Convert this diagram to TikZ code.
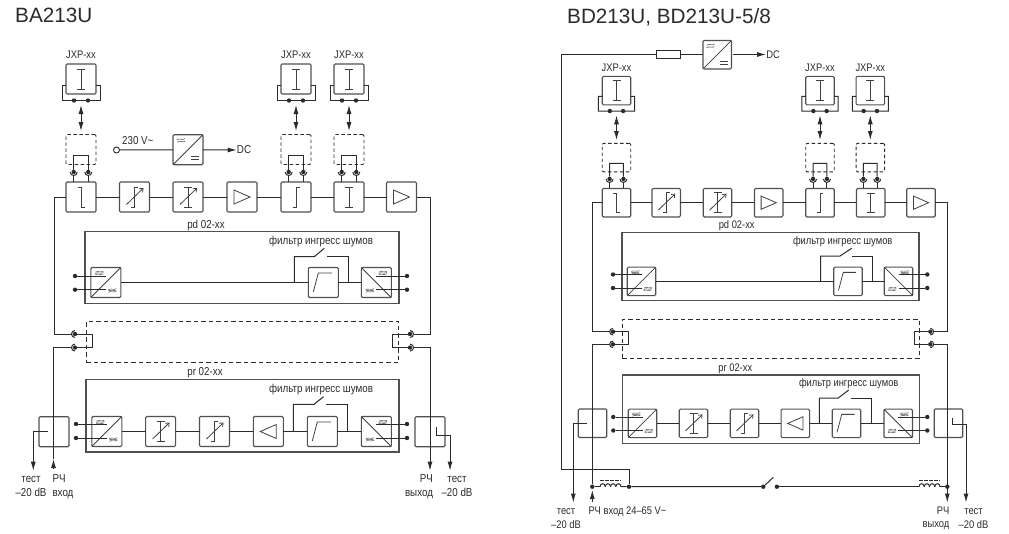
\documentclass[tikz,border=0pt]{standalone}
\usepackage{fontspec}
\setmainfont{Liberation Sans}
\newfontfamily\condfont[FakeStretch=0.85]{Liberation Sans}
\usetikzlibrary{arrows.meta, positioning, calc}
\definecolor{mLine}{HTML}{2B2B2B}
\definecolor{mBox}{HTML}{505050}
\definecolor{mSym}{HTML}{404040}
\tikzset{
  sigline/.style={mLine, line width=1pt},
  sigtip/.style={sigline, -{Latex[length=9pt,width=5pt]}},
  dbltip/.style={sigline, {Latex[length=9pt,width=5pt]}-{Latex[length=9pt,width=5pt]}},
  blockbox/.style={draw=mBox, line width=1.1pt, rounded corners=1.2pt, minimum size=30pt, inner sep=0pt, outer sep=0pt},
  blockB/.style={blockbox, minimum size=28.5pt},
  dashbox/.style={blockbox, dashed, dash pattern=on 3.5pt off 2.5pt, draw=mLine, line width=0.9pt},
  panelbox/.style={draw=mBox, line width=1.2pt, inner sep=0pt, outer sep=0pt},
  dashpanel/.style={draw=mLine, line width=1pt, dash pattern=on 4.5pt off 3pt, inner sep=0pt, outer sep=0pt},
  dotn/.style={circle, fill=mLine, inner sep=0pt, minimum size=4.4pt},
  lab/.style={font=\condfont\fontsize{11.5}{14.5}\selectfont, text=mLine, inner sep=0pt},
  labB/.style={font=\condfont\fontsize{11}{13.6}\selectfont, text=mLine, inner sep=0pt},
  symline/.style={mSym, line width=0.8pt},
  pics/symI/.style={code={\draw[symline] (-4,-10) -- (4,-10) (0,-10) -- (0,10) (-4,10) -- (4,10);}},
  pics/symHook/.style={code={\draw[symline] (-3.5,-10) -- (0,-10) -- (0,10) -- (3.5,10);}},
  pics/symInt/.style={code={\draw[symline] (-3.5,10) -- (0,10) -- (0,-10) -- (3.5,-10);}},
  pics/symTilt/.style={code={\draw[symline, -{Straight Barb[length=3pt,width=5pt]}] (-8,7.5) -- (9,-9);}},
  pics/symSlope/.style={code={\pic {symInt}; \pic {symTilt};}},
  pics/symIgain/.style={code={\pic {symI}; \pic {symTilt};}},
  pics/symAmp/.style={code={\draw[symline] (-8,-7) -- (8,0) -- (-8,7) -- cycle;}},
  pics/symFilter/.style={code={\draw[symline] (-10,9.5) -- (-5,-9.5) -- (8.5,-9.5);}},
  pics/symWave/.style={code={
    \foreach \w in {-1.3,0,1.3} {
      \draw[mSym, line width=0.45pt] (-4,\w+0.5) .. controls (-2,\w-1.2) and (1.5,\w+1.2) .. (4,\w-0.5);
    }}},
  pics/symAC/.style={code={
    \draw[symline] (-15,15) -- (15,-15);
    \pic at (-6.5,-9.5) {symWave};
    \pic at (6.5,8) {symWave};}},
  pics/symDC/.style={code={
    \draw[symline] (-15,15) -- (15,-15);
    \foreach \w in {-10.5,-8} {
      \draw[mSym, line width=0.55pt] (-11,\w+0.5) .. controls (-9,\w-1.2) and (-5,\w+1.2) .. (-3,\w-0.5);
    }
    \draw[mSym, line width=0.6pt] (3,7) -- (11,7) (3,9.8) -- (11,9.8);}},
  pics/cupmark/.style={code={\draw[sigline] (-3.5,0) .. controls (-3.5,4.6) and (3.5,4.6) .. (3.5,0);}},
  pics/coil/.style={code={
    \foreach \k in {0,1,2,3} {
      \draw[sigline] (\k*5.25,0) .. controls (\k*5.25+0.2,-4) and (\k*5.25+5.05,-4) .. (\k*5.25+5.25,0);
    }
    \draw[mLine, line width=0.8pt, dash pattern=on 3.6pt off 1.5pt] (0,-6) -- (21,-6);}}
}
% one plug-in unit with its socket above a block: name, x, y, scale, block
\newcommand{\jxpunit}[5]{%
  \begin{scope}[shift={(#2,#3)}, scale=#4]
    \node[labB] (jl#1) at (0,-142) {JXP-xx};
    \node[blockbox, minimum size=#4*30pt] (jx#1) at (0,-118) {};
    \pic at (jx#1) {symI};
    \node[dotn] (ja#1) at (-7,-96.5) {};
    \node[dotn] (jb#1) at (7,-96.5) {};
    \coordinate (jr#1) at (15,-112);
    \coordinate (jq#1) at (-15,-112);
    \draw[sigline] (jr#1) -- ++(4,0) -- (19,-96.5) -- (ja#1) -- (jb#1) -- (-19,-96.5) -- (-19,-112) -- (jq#1);
    \coordinate (jt#1) at (0,-92);
    \coordinate (ju#1) at (0,-66);
    \draw[dbltip] (jt#1) -- (ju#1);
    \node[dashbox, minimum size=#4*30pt] (js#1) at (0,-47.5) {};
    \node[dotn] (sa#1) at (-7.3,-25) {};
    \node[dotn] (sb#1) at (7.3,-25) {};
    \coordinate (st#1) at (-7.3,-41.3);
    \draw[sigline] (sa#1) -- (st#1) -- ++(14.6,0) -- (sb#1);
    \pic at (sa#1) {cupmark};
    \pic at (sb#1) {cupmark};
    \draw[sigline] (sa#1) ++(0,3.5) -- (sa#1 |- #5.north);
    \draw[sigline] (sb#1) ++(0,3.5) -- (sb#1 |- #5.north);
  \end{scope}}
\begin{document}
\begin{tikzpicture}[x=1pt, y=-1pt]
  \useasboundingbox (0,0) rectangle (1009,533);
  \node[font=\fontsize{20.7}{24}\selectfont, text=mLine, inner sep=0pt, anchor=base west] (titleA) at (15,22) {BA213U};
  \node[font=\fontsize{20.7}{24}\selectfont, text=mLine, inner sep=0pt, anchor=base west] (titleB) at (567,23) {BD213U, BD213U-5/8};

  % BA213U, forward row
  \foreach \n/\x/\s in {1/81/symHook,2/134.5/symSlope,3/188/symIgain,4/242/symAmp,5/296/symInt,6/349/symI,7/401.5/symAmp} {
    \node[blockbox] (bA\n) at (\x,197) {};
    \pic at (bA\n) {\s};
  }
  \foreach \n [remember=\n as \p (initially 1)] in {2,...,7} {
    \draw[sigline] (bA\p) -- (bA\n);
  }
  \jxpunit{A1}{81}{197}{1}{bA1}
  \jxpunit{A2}{296}{197}{1}{bA5}
  \jxpunit{A3}{349}{197}{1}{bA6}

  % mains input
  \node[draw=mLine, line width=0.9pt, circle, inner sep=0pt, minimum size=6pt] (inA) at (116.5,150) {};
  \node[lab, right=2pt of inA, yshift=9pt] (vA) {230 V\textasciitilde};
  \node[blockbox] (cvA0) at (188,149.7) {};
  \pic at (cvA0) {symDC};
  \draw[sigline] (inA) -- (cvA0);
  \node[lab] (dcA) at (244,150) {DC};
  \draw[sigtip] (cvA0) -- (dcA.west);

  % pd 02-xx
  \node[panelbox, minimum width=314pt, minimum height=72pt] (pdA) at (242,267.5) {};
  \node[lab] (pdlA) at (206,225.5) {pd 02-xx};
  \node[lab] (fltA1) at (321,241.7) {фильтр ингресс шумов};
  \node[blockbox] (cvA1) at (105.8,282.5) {};
  \pic at (cvA1) {symAC};
  \node[blockbox] (flA1) at (323.3,282.5) {};
  \pic at (flA1) {symFilter};
  \node[blockbox] (cvA2) at (376.3,282.5) {};
  \pic[xscale=-1] at (cvA2) {symAC};
  \draw[sigline] (cvA1) -- (flA1);
  \draw[sigline] (flA1) -- (cvA2);
  \foreach \n/\x/\y/\c in {1/75/276/cvA1,2/75/289.7/cvA1,3/407/276/cvA2,4/407/289.7/cvA2} {
    \node[dotn] (dpA\n) at (\x,\y) {};
    \draw[sigline] (dpA\n) -- (dpA\n -| \c);
  }
  \coordinate (byA1) at (294.3,282.5);
  \coordinate (byA2) at (348.3,282.5);
  \coordinate (swA1) at (314.3,256.7);
  \coordinate (swA2) at (327.3,256.7);
  \draw[sigline] (byA1) |- (swA1) -- ++(10,-8.4);
  \draw[sigline] (swA2) -| (byA2);

  % link section
  \node[dashpanel, minimum width=312.7pt, minimum height=41.4pt] (lkA) at (242.6,342) {};
  \foreach \n/\x/\y/\r in {1/75/334/-90,2/75/347.6/-90,3/410/334/90,4/410/347.6/90} {
    \node[dotn] (cA\n) at (\x,\y) {};
    \pic[rotate=\r] at (cA\n) {cupmark};
  }
  \draw[sigline] (cA1) -- ++(17,0) |- (cA2);
  \draw[sigline] (cA3) -- ++(-17.3,0) |- (cA4);
  \coordinate (kA1) at (54,334);
  \coordinate (kA2) at (430.5,334);
  \draw[sigline] (bA1.west) -| (kA1) -- ($(cA1)+(-3.5,0)$);
  \draw[sigline] (bA7.east) -| (kA2) -- ($(cA3)+(3.5,0)$);

  % pr 02-xx
  \node[panelbox, minimum width=313pt, minimum height=72.3pt] (prA) at (242.5,415.8) {};
  \node[lab] (prlA) at (205,373) {pr 02-xx};
  \node[lab] (fltA2) at (321,390) {фильтр ингресс шумов};
  \foreach \n/\x/\s in {1/106.8/symAC,2/160.6/symIgain,3/214.5/symSlope,4/268.3/symAmp,5/322.3/symFilter,6/376.3/symAC} {
    \node[blockbox] (rA\n) at (\x,431.5) {};
    \ifnum\n=4 \pic[xscale=-1] at (rA\n) {\s};
    \else\ifnum\n=6 \pic[xscale=-1] at (rA\n) {\s};
    \else \pic at (rA\n) {\s};
    \fi\fi
  }
  \foreach \n [remember=\n as \p (initially 1)] in {2,...,6} {
    \draw[sigline] (rA\p) -- (rA\n);
  }
  \foreach \n/\x/\y/\c in {1/76/424/rA1,2/76/438/rA1,3/407/424/rA6,4/407/438/rA6} {
    \node[dotn] (drA\n) at (\x,\y) {};
    \draw[sigline] (drA\n) -- (drA\n -| \c);
  }
  \coordinate (byA3) at (293.3,431.5);
  \coordinate (byA4) at (347.3,431.5);
  \coordinate (swA3) at (314,404.3);
  \coordinate (swA4) at (326,404.3);
  \draw[sigline] (byA3) |- (swA3) -- ++(9.5,-7.6);
  \draw[sigline] (swA4) -| (byA4);

  % taps and RF ports
  \node[blockbox] (tpA1) at (54,431.7) {};
  \node[blockbox] (tpA2) at (430,431.7) {};
  \coordinate (tiA1) at (47.7,431);
  \coordinate (toA1) at (33.3,470.7);
  \draw[sigtip] (tiA1) -| (toA1);
  \coordinate (tiA2) at (436,427.3);
  \coordinate (tiA3) at (436,435);
  \coordinate (toA2) at (450,470.7);
  \draw[sigline] (tiA2) -- (tiA3);
  \draw[sigtip] (tiA3) -| (toA2);
  \coordinate (rfA1) at (53.5,469);
  \coordinate (rfA2) at (53.5,459);
  \coordinate (rfA3) at (53.5,347.6);
  \draw[sigtip] (rfA1) -- (rfA2);
  \draw[sigline] (rfA2) -- (rfA3) -- ($(cA2)+(-3.5,0)$);
  \coordinate (rfA4) at (430,470.7);
  \draw[sigtip] ($(cA4)+(3.5,0)$) -| (rfA4);
  \node[lab, align=center] (teA1) at (31,486.5) {тест\\–20 dB};
  \node[lab, align=left] (rfAl) at (63,486.5) {РЧ\\вход};
  \node[lab, align=right] (rfAr) at (419,486.5) {РЧ\\выход};
  \node[lab, align=center] (teA2) at (457,486.5) {тест\\–20 dB};

  % BD213U, forward row
  \foreach \n/\x/\s in {1/616.5/symHook,2/666.2/symSlope,3/717.5/symIgain,4/768.7/symAmp,5/820/symInt,6/870.7/symI,7/921/symAmp} {
    \node[blockB] (bB\n) at (\x,202.7) {};
    \pic[scale=0.95] at (bB\n) {\s};
  }
  \foreach \n [remember=\n as \p (initially 1)] in {2,...,7} {
    \draw[sigline] (bB\p) -- (bB\n);
  }
  \jxpunit{B1}{616.5}{202.7}{0.95}{bB1}
  \jxpunit{B2}{820}{202.7}{0.95}{bB5}
  \jxpunit{B3}{870.3}{202.7}{0.95}{bB6}

  % power feed
  \node[blockB] (cvB0) at (717.2,54.7) {};
  \pic[scale=0.95] at (cvB0) {symDC};
  \node[draw=mLine, line width=0.9pt, minimum width=24pt, minimum height=7.6pt, inner sep=0pt, outer sep=0pt] (fuB) at (668.7,54.5) {};
  \draw[sigline] (cvB0.west |- fuB) -- (fuB);
  \node[labB] (dcB) at (773,54.5) {DC};
  \coordinate (dcB0) at (733.3,54.5);
  \draw[sigtip] (dcB0) -- (dcB.west);
  \coordinate (kB3) at (561.7,469);
  \node[dotn] (jnB1) at (629,486.7) {};
  \draw[sigline] (fuB.west) -| (kB3) -| (jnB1);

  % pd 02-xx
  \node[panelbox, minimum width=297pt, minimum height=68pt] (pdB) at (770.5,266.7) {};
  \node[labB] (pdlB) at (736.7,226) {pd 02-xx};
  \node[labB] (fltB1) at (842.7,241.7) {фильтр ингресс шумов};
  \node[blockB] (cvB1) at (641.5,281.4) {};
  \pic[scale=0.95] at (cvB1) {symAC};
  \node[blockB] (flB1) at (848,281.4) {};
  \pic[scale=0.95] at (flB1) {symFilter};
  \node[blockB] (cvB2) at (898.5,281.4) {};
  \pic[scale=0.95, xscale=-1] at (cvB2) {symAC};
  \draw[sigline] (cvB1) -- (flB1);
  \draw[sigline] (flB1) -- (cvB2);
  \foreach \n/\x/\y/\c in {1/613/274.5/cvB1,2/613/288/cvB1,3/927.3/274.5/cvB2,4/927.3/288/cvB2} {
    \node[dotn] (dpB\n) at (\x,\y) {};
    \draw[sigline] (dpB\n) -- (dpB\n -| \c);
  }
  \coordinate (byB1) at (820.7,281.4);
  \coordinate (byB2) at (872,281.4);
  \coordinate (swB1) at (840,256);
  \coordinate (swB2) at (852.3,256);
  \draw[sigline] (byB1) |- (swB1) -- ++(11.7,-7.7);
  \draw[sigline] (swB2) -| (byB2);

  % link section
  \node[dashpanel, minimum width=297pt, minimum height=39pt] (lkB) at (770.7,338.8) {};
  \foreach \n/\x/\y/\r in {1/613/331.7/-90,2/613/344.3/-90,3/930.3/331.7/90,4/930.3/344.3/90} {
    \node[dotn] (cB\n) at (\x,\y) {};
    \pic[scale=0.95, rotate=\r] at (cB\n) {cupmark};
  }
  \draw[sigline] (cB1) -- ++(15.3,0) |- (cB2);
  \draw[sigline] (cB3) -- ++(-16.3,0) |- (cB4);
  \coordinate (kB1) at (592.7,331.7);
  \coordinate (kB2) at (947.3,331.7);
  \draw[sigline] (bB1.west) -| (kB1) -- ($(cB1)+(-3.3,0)$);
  \draw[sigline] (bB7.east) -| (kB2) -- ($(cB3)+(3.3,0)$);

  % pr 02-xx
  \node[panelbox, minimum width=297pt, minimum height=68.3pt] (prB) at (770.7,409.1) {};
  \node[labB] (prlB) at (735.3,368.5) {pr 02-xx};
  \node[labB] (fltB2) at (848.7,383.3) {фильтр ингресс шумов};
  \foreach \n/\x/\s in {1/642.5/symAC,2/693.5/symIgain,3/744.5/symSlope,4/795.3/symAmp,5/846.5/symFilter,6/898.2/symAC} {
    \node[blockB] (rB\n) at (\x,423.4) {};
    \ifnum\n=4 \pic[scale=0.95, xscale=-1] at (rB\n) {\s};
    \else\ifnum\n=6 \pic[scale=0.95, xscale=-1] at (rB\n) {\s};
    \else \pic[scale=0.95] at (rB\n) {\s};
    \fi\fi
  }
  \foreach \n [remember=\n as \p (initially 1)] in {2,...,6} {
    \draw[sigline] (rB\p) -- (rB\n);
  }
  \foreach \n/\x/\y/\c in {1/613.3/417/rB1,2/613.3/430.5/rB1,3/927.3/417/rB6,4/927.3/430.5/rB6} {
    \node[dotn] (drB\n) at (\x,\y) {};
    \draw[sigline] (drB\n) -- (drB\n -| \c);
  }
  \coordinate (byB3) at (819.3,423.4);
  \coordinate (byB4) at (871,423.4);
  \coordinate (swB3) at (838.3,398);
  \coordinate (swB4) at (851,398);
  \draw[sigline] (byB3) |- (swB3) -- ++(10.4,-8);
  \draw[sigline] (swB4) -| (byB4);

  % taps, RF ports and remote feed
  \node[blockB] (tpB1) at (592.5,423.2) {};
  \node[blockB] (tpB2) at (948.5,423.2) {};
  \coordinate (tiB1) at (586.7,423);
  \coordinate (toB1) at (573.3,502.5);
  \draw[sigtip] (tiB1) -| (toB1);
  \coordinate (tiB2) at (952.7,418.3);
  \coordinate (tiB3) at (952.7,424.7);
  \coordinate (toB2) at (966,502.5);
  \draw[sigline] (tiB2) -- (tiB3);
  \draw[sigtip] (tiB3) -| (toB2);
  \node[dotn] (jnB0) at (592.3,486.7) {};
  \node[dotn] (swB5) at (763.3,486.7) {};
  \node[dotn] (swB6) at (776.9,486.7) {};
  \node[dotn] (jnB2) at (947.3,486.7) {};
  \draw[sigline] (jnB0) -- (600,486.7);
  \pic at (600,486.7) {coil};
  \draw[sigline] (621,486.7) -- (jnB1) -- (swB5) -- ++(10,-9.4);
  \draw[sigline] (swB6) -- (919,486.7);
  \pic at (919,486.7) {coil};
  \draw[sigline] (940,486.7) -- (jnB2);
  \draw[sigline] (jnB0) -- ($(cB2)+(-20.7,0)$) -- ($(cB2)+(-3.3,0)$);
  \coordinate (rfB1) at (592.3,502);
  \coordinate (rfB2) at (592.3,490);
  \draw[sigtip] (rfB1) -- (rfB2);
  \coordinate (rfB4) at (947.3,502.5);
  \draw[sigtip] ($(cB4)+(3.3,0)$) -| (rfB4);
  \node[labB, align=center] (teB1) at (566,518.5) {тест\\–20 dB};
  \node[labB, anchor=west] (rfBl) at (588.3,511.7) {РЧ вход 24–65 V\textasciitilde};
  \node[labB, align=right] (rfBr) at (936,518.5) {РЧ\\выход};
  \node[labB, align=center] (teB2) at (973.5,518.5) {тест\\–20 dB};
\end{tikzpicture}
\end{document}
